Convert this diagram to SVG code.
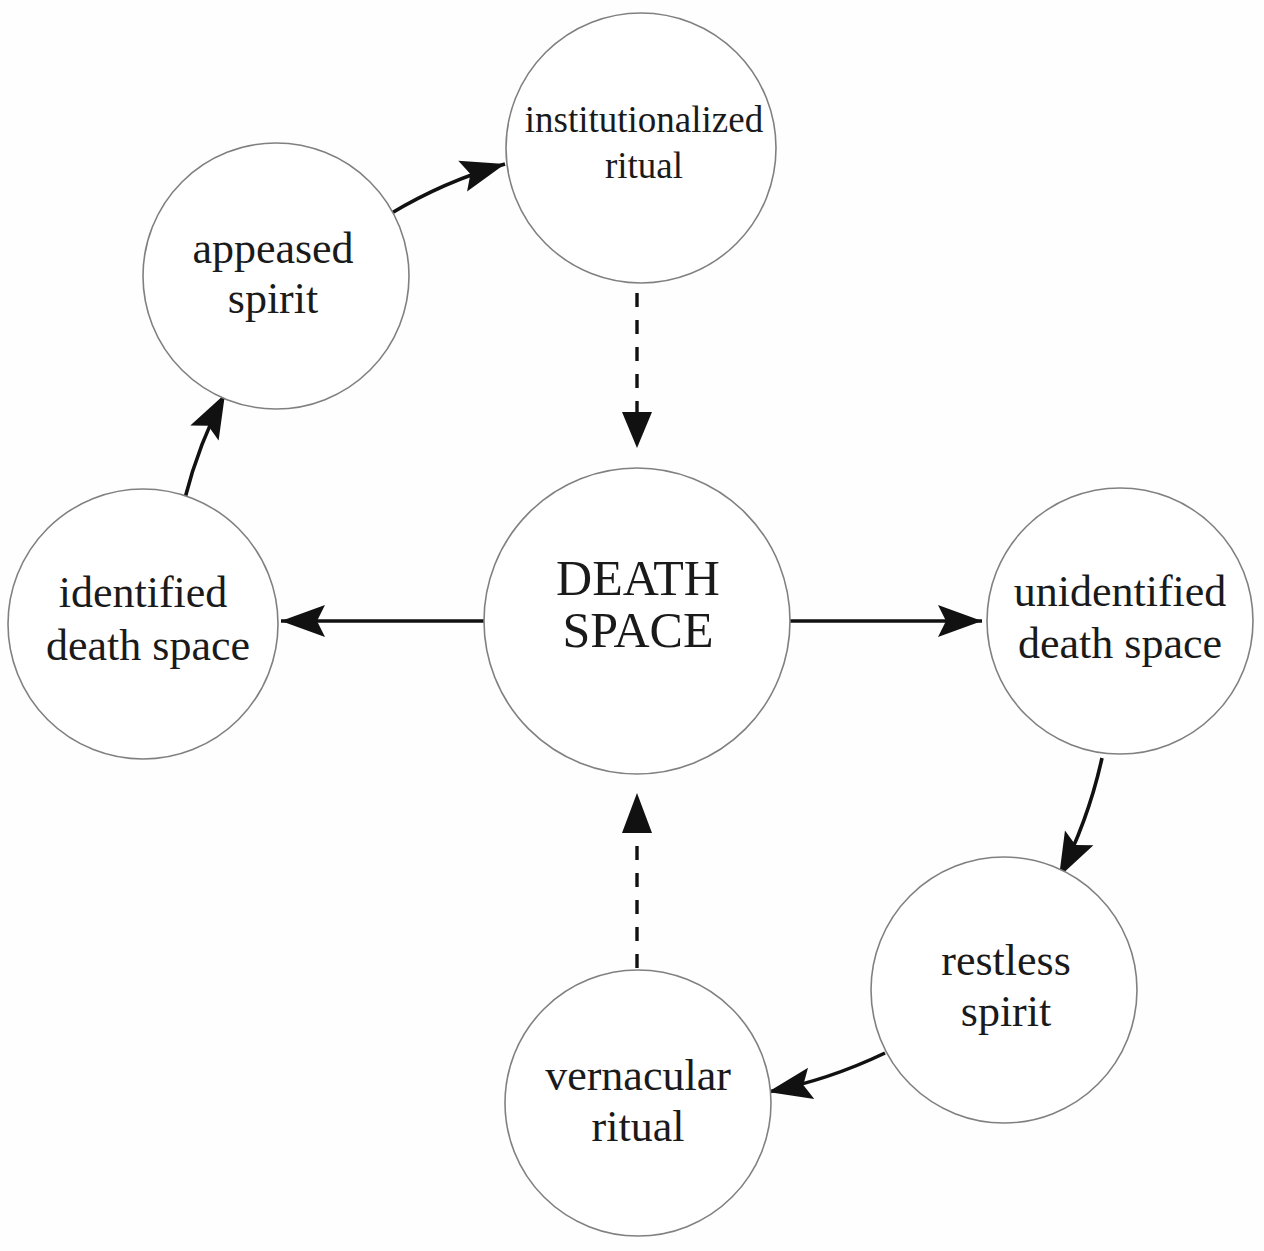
<svg xmlns="http://www.w3.org/2000/svg" width="1264" height="1251" viewBox="0 0 1264 1251">
  <style>
    .node { fill: #ffffff; stroke: #808080; stroke-width: 1.6; }
    .lbl { font-family: "Liberation Serif", "Times New Roman", serif; fill: #1a1a1a; text-anchor: middle; font-size: 44px; }
    .small { font-size: 37px; }
    .big { font-size: 50px; }
    .solid { fill: none; stroke: #111; stroke-width: 3.6; }
    .dash { fill: none; stroke: #111; stroke-width: 3.4; stroke-dasharray: 14 13; }
  </style>
  <defs>
    <marker id="barb" markerUnits="userSpaceOnUse" markerWidth="50" markerHeight="40" viewBox="-48 -20 50 40" refX="0" refY="0" orient="auto">
      <path d="M0,0 L-44,-16 L-36,0 L-44,16 Z" fill="#111"/>
    </marker>
  </defs>
  <rect width="1264" height="1251" fill="#fefefe"/>

  <g id="connectors">
    <path class="solid" d="M390,214 A476,476 0 0 1 505,164" marker-end="url(#barb)"/>
    <path class="solid" d="M185,498 A470,470 0 0 1 225,394" marker-end="url(#barb)"/>
    <path class="solid" d="M484,621 L281,621" marker-end="url(#barb)"/>
    <path class="solid" d="M790,621 L982,621" marker-end="url(#barb)"/>
    <path class="solid" d="M1102,758 A488,488 0 0 1 1059,877" marker-end="url(#barb)"/>
    <path class="solid" d="M885,1053 A492,492 0 0 1 768,1092" marker-end="url(#barb)"/>
    <path class="dash" d="M637,293 L637,414"/>
    <path d="M622,412 L652,412 L637,448 Z" fill="#111"/>
    <path class="dash" d="M637,968 L637,832"/>
    <path d="M622,833 L652,833 L637,793 Z" fill="#111"/>
  </g>

  <g id="node-institutionalized">
    <circle class="node" cx="641" cy="148" r="135"/>
    <text class="lbl small" x="644" y="132">institutionalized</text>
    <text class="lbl small" x="644" y="178">ritual</text>
  </g>
  <g id="node-appeased">
    <circle class="node" cx="276" cy="276" r="133"/>
    <text class="lbl" x="273" y="263">appeased</text>
    <text class="lbl" x="273" y="313">spirit</text>
  </g>
  <g id="node-identified">
    <circle class="node" cx="143" cy="624" r="135"/>
    <text class="lbl" x="143" y="607">identified</text>
    <text class="lbl" x="148" y="660">death space</text>
  </g>
  <g id="node-death">
    <circle class="node" cx="637" cy="621" r="153"/>
    <text class="lbl big" x="638" y="595">DEATH</text>
    <text class="lbl big" x="638" y="647">SPACE</text>
  </g>
  <g id="node-unidentified">
    <circle class="node" cx="1120" cy="621" r="133"/>
    <text class="lbl" x="1120" y="606">unidentified</text>
    <text class="lbl" x="1120" y="658">death space</text>
  </g>
  <g id="node-restless">
    <circle class="node" cx="1004" cy="990" r="133"/>
    <text class="lbl" x="1006" y="975">restless</text>
    <text class="lbl" x="1006" y="1026">spirit</text>
  </g>
  <g id="node-vernacular">
    <circle class="node" cx="638" cy="1103" r="133"/>
    <text class="lbl" x="638" y="1090">vernacular</text>
    <text class="lbl" x="638" y="1141">ritual</text>
  </g>
</svg>
